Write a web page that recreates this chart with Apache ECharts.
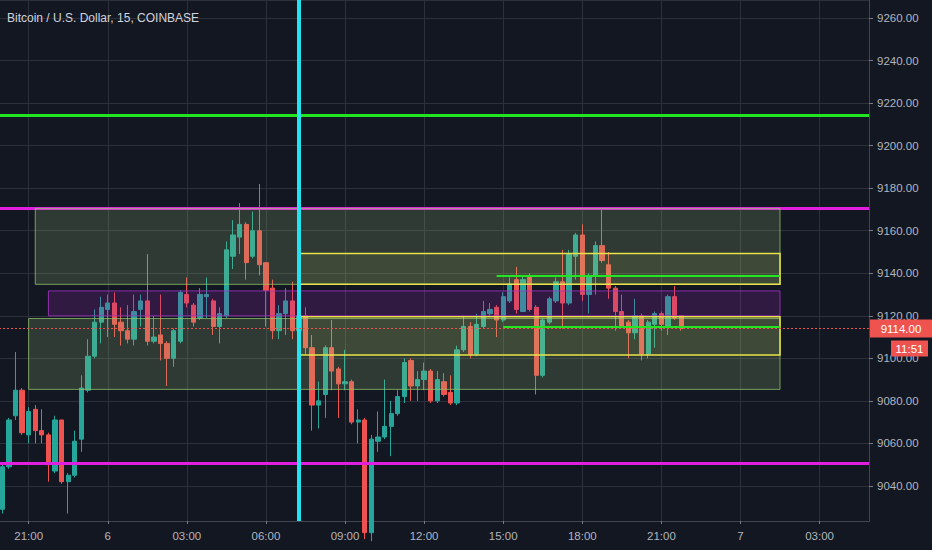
<!DOCTYPE html>
<html>
<head>
<meta charset="utf-8">
<script src="https://cdn.jsdelivr.net/npm/echarts@6/dist/echarts.min.js"></script>
<style>
html,body{margin:0;padding:0;background:#131722;}
#chart{width:932px;height:550px;}
</style>
</head>
<body>
<div id="chart"></div>
<script>
// ---------- data ----------
const chartTitle = 'Bitcoin / U.S. Dollar, 15, COINBASE';

const opens = [9029,9049,9073,9085,9064,9076,9066,9064,9047,9071,
  9042,9045,9062,9085,9101,9117,9123,9126,9117,9113,
  9109,9123,9127,9108,9111,9107,9100,9108,9130,9125,
  9119,9129,9127,9115,9120,9148,9157,9163,9148,9160,
  9145,9133,9113,9121,9127,9113,9120,9105,9078,9083,
  9105,9095,9088,9089,9070,9071,9018,9061,9063,9068,
  9074,9082,9099,9087,9090,9094,9080,9089,9084,9079,
  9104,9115,9102,9115,9121,9124,9118,9127,9137,9122,
  9138,9124,9092,9117,9127,9136,9126,9148,9158,9130,
  9139,9153,9144,9133,9122,9117,9112,9120,9102,9116,
  9121,9115,9129,9120];
const closes = [9049,9071,9085,9065,9075,9066,9064,9050,9071,9042,
  9045,9061,9086,9101,9117,9124,9126,9116,9113,9109,
  9122,9127,9108,9110,9107,9100,9113,9131,9126,9117,
  9130,9130,9115,9121,9151,9158,9163,9145,9160,9144,
  9132,9113,9121,9127,9113,9120,9105,9078,9080,9105,
  9094,9088,9089,9070,9071,9018,9062,9063,9068,9074,
  9082,9098,9087,9090,9094,9080,9090,9083,9079,9104,
  9115,9102,9116,9122,9123,9118,9129,9135,9123,9137,
  9123,9092,9118,9128,9136,9126,9149,9158,9130,9139,
  9153,9146,9133,9122,9115,9112,9120,9102,9117,9121,
  9116,9129,9119,9114];
const lows = [9027,9048,9071,9064,9060,9060,9060,9042,9046,9041,
  9027,9044,9056,9084,9100,9107,9110,9110,9106,9107,
  9106,9115,9106,9107,9099,9087,9096,9107,9124,9115,
  9118,9119,9111,9107,9119,9142,9149,9137,9147,9139,
  9115,9109,9109,9111,9109,9108,9102,9066,9067,9072,
  9085,9072,9085,9069,9060,9015,9014,9056,9062,9054,
  9073,9079,9080,9080,9085,9079,9079,9082,9078,9078,
  9103,9100,9101,9114,9120,9110,9117,9126,9121,9122,
  9122,9083,9091,9116,9126,9114,9125,9137,9127,9121,
  9130,9145,9128,9113,9115,9100,9109,9099,9100,9105,
  9113,9111,9118,9113];
const highs = [9050,9072,9103,9086,9077,9078,9076,9065,9073,9071,
  9046,9066,9092,9109,9123,9129,9130,9131,9124,9125,
  9130,9130,9149,9120,9130,9108,9114,9132,9138,9126,
  9133,9138,9128,9124,9155,9165,9173,9164,9169,9182,
  9145,9137,9125,9133,9136,9124,9124,9111,9089,9106,
  9118,9096,9104,9090,9076,9072,9064,9075,9090,9080,
  9085,9100,9100,9094,9098,9095,9094,9093,9092,9106,
  9120,9117,9121,9127,9126,9125,9131,9138,9143,9139,
  9140,9125,9119,9129,9138,9151,9151,9159,9163,9140,
  9155,9170,9150,9134,9130,9118,9128,9121,9118,9122,
  9122,9130,9134,9120];

// x tick categories and their labels
const tickCats   = ['5 21:00','6 00:00','6 03:00','6 06:00','6 09:00','6 12:00','6 15:00','6 18:00','6 21:00','7 00:00','7 03:00'];
const tickLabels = ['21:00','6','03:00','06:00','09:00','12:00','15:00','18:00','21:00','7','03:00'];

// drawn levels
const greenLevels = [9214.5];
const magentaLevels = [9170.5, 9050.8];
const cursorCat = '6 07:15';
const lastPrice = 9114.00;
const countdown = '11:51';

// zones (rectangles)
const zoneFrom   = ['5 21:15', '5 21:45', '5 21:00', '6 07:15', '6 07:15'];
const zoneTo     = ['7 01:30', '7 01:30', '7 01:30', '7 01:30', '7 01:30'];
const zoneTop    = [9170.5, 9131.7, 9118.7, 9149.3, 9119.6];
const zoneBottom = [9134.8, 9120.0, 9085.4, 9134.8, 9101.6];
const zoneKind   = ['green', 'purple', 'green', 'yellow', 'yellow'];

// short green segments
const segFrom  = ['6 14:45', '6 15:00'];
const segTo    = ['7 01:30', '7 01:30'];
const segLevel = [9138.6, 9114.9];

// ---------- build ----------
const categories = [];
for (let i = 0; i < 132; i++) {
  const m = 20 * 60 + 15 * i;
  const day = 5 + Math.floor(m / 1440);
  const mm = m % 1440;
  const hh = String(Math.floor(mm / 60)).padStart(2, '0');
  const mi = String(mm % 60).padStart(2, '0');
  categories.push(day + ' ' + hh + ':' + mi);
}
const candleData = opens.map((o, i) => [o, closes[i], lows[i], highs[i]]);
const labelMap = {};
tickCats.forEach((c, i) => { labelMap[c] = tickLabels[i]; });
const tickSet = new Set(tickCats);
const tickInterval = (idx, val) => tickSet.has(val);

const FONT = '"Liberation Sans", Arial, sans-serif';
const GRID = '#2c303b';

const zoneStyle = {
  green:  {color: 'rgba(154,198,119,0.20)', borderColor: 'rgba(150,200,110,0.75)', borderWidth: 1},
  purple: {color: 'rgba(156,39,176,0.22)', borderColor: 'rgba(160,50,190,0.85)', borderWidth: 1},
  yellow: {color: 'rgba(235,235,110,0.09)', borderColor: '#e8e34a', borderWidth: 1.5}
};

const levelLines = [];
greenLevels.forEach(v => levelLines.push({yAxis: v, lineStyle: {color: '#22e622', width: 3, type: 'solid'}}));
magentaLevels.forEach(v => levelLines.push({yAxis: v, lineStyle: {color: '#e01fe0', width: 3, type: 'solid'}}));

const zoneAreas = zoneFrom.map((f, i) => [
  {xAxis: f, yAxis: zoneTop[i], itemStyle: zoneStyle[zoneKind[i]]},
  {xAxis: zoneTo[i], yAxis: zoneBottom[i]}
]);

const overlayLines = segFrom.map((f, i) => [
  {coord: [f, segLevel[i]], lineStyle: {color: '#22e622', width: 2, type: 'solid'}},
  {coord: [segTo[i], segLevel[i]]}
]);
overlayLines.push({xAxis: cursorCat, lineStyle: {color: '#22e3ee', width: 4, type: 'solid'}});
overlayLines.push({
  yAxis: lastPrice,
  lineStyle: {color: '#ef5350', width: 1, type: [2, 2]},
  label: {
    show: true, position: 'end', distance: 1,
    formatter: () => '{t| }\n{a|' + lastPrice.toFixed(2) + '}\n{g| }\n{s| }{b|' + countdown + '}',
    rich: {
      t: {fontSize: 1, height: 19, lineHeight: 19},
      a: {color: '#ffffff', backgroundColor: '#ef5350', fontSize: 11.5, fontFamily: FONT, width: 42, align: 'center', height: 12, lineHeight: 18, padding: [3, 10, 3, 10]},
      g: {fontSize: 1, height: 3, lineHeight: 3},
      s: {fontSize: 1, width: 17, height: 16, lineHeight: 16},
      b: {color: '#ffffff', backgroundColor: '#ef5350', fontSize: 11.5, fontFamily: FONT, width: 29, align: 'center', height: 12, lineHeight: 16, padding: [2, 4, 2, 4]}
    }
  }
});

const chart = echarts.init(document.getElementById('chart'), null, {renderer: 'svg'});
chart.setOption({
  backgroundColor: '#131722',
  animation: false,
  title: {
    text: chartTitle, left: 7, top: 12, padding: 0,
    textStyle: {color: '#d1d4dc', fontSize: 12, fontWeight: 'normal', fontFamily: FONT}
  },
  grid: {left: -1, right: 63, top: 0, bottom: 29, containLabel: false, outerBoundsMode: 'none'},
  xAxis: {
    type: 'category', data: categories, boundaryGap: true,
    axisLine: {show: true, lineStyle: {color: '#434651'}},
    axisTick: {show: true, alignWithLabel: true, length: 3, interval: tickInterval, lineStyle: {color: '#787b86'}},
    axisLabel: {interval: tickInterval, formatter: v => labelMap[v] || '', color: '#b2b5be', fontSize: 11.5, fontFamily: FONT, margin: 9},
    splitLine: {show: true, alignWithLabel: true, interval: tickInterval, lineStyle: {color: GRID, width: 1}}
  },
  yAxis: {
    type: 'value', position: 'right', min: 9023.5, max: 9268.5, splitNumber: 12,
    axisLine: {show: true, lineStyle: {color: '#434651'}},
    axisTick: {show: true, length: 4, lineStyle: {color: '#787b86'}},
    axisLabel: {color: '#b2b5be', fontSize: 11.5, fontFamily: FONT, margin: 8, showMinLabel: false, showMaxLabel: false, formatter: v => v.toFixed(2)},
    splitLine: {show: true, lineStyle: {color: GRID, width: 1}}
  },
  series: [
    {
      type: 'candlestick', name: 'BTCUSD', data: candleData, barWidth: '72%', z: 2, clip: true,
      itemStyle: {color: '#26a69a', color0: '#ef5350', borderColor: '#26a69a', borderColor0: '#ef5350', borderWidth: 1}
    },
    {
      type: 'line', name: 'levels', data: [], z: 3,
      markLine: {silent: true, z: 3, symbol: ['none', 'none'], label: {show: false}, data: levelLines}
    },
    {
      type: 'line', name: 'zones', data: [], z: 4,
      markArea: {silent: true, z: 4, label: {show: false}, data: zoneAreas}
    },
    {
      type: 'line', name: 'overlay', data: [], z: 6,
      markLine: {silent: true, z: 6, symbol: ['none', 'none'], label: {show: false}, data: overlayLines}
    }
  ]
});
</script>
</body>
</html>
